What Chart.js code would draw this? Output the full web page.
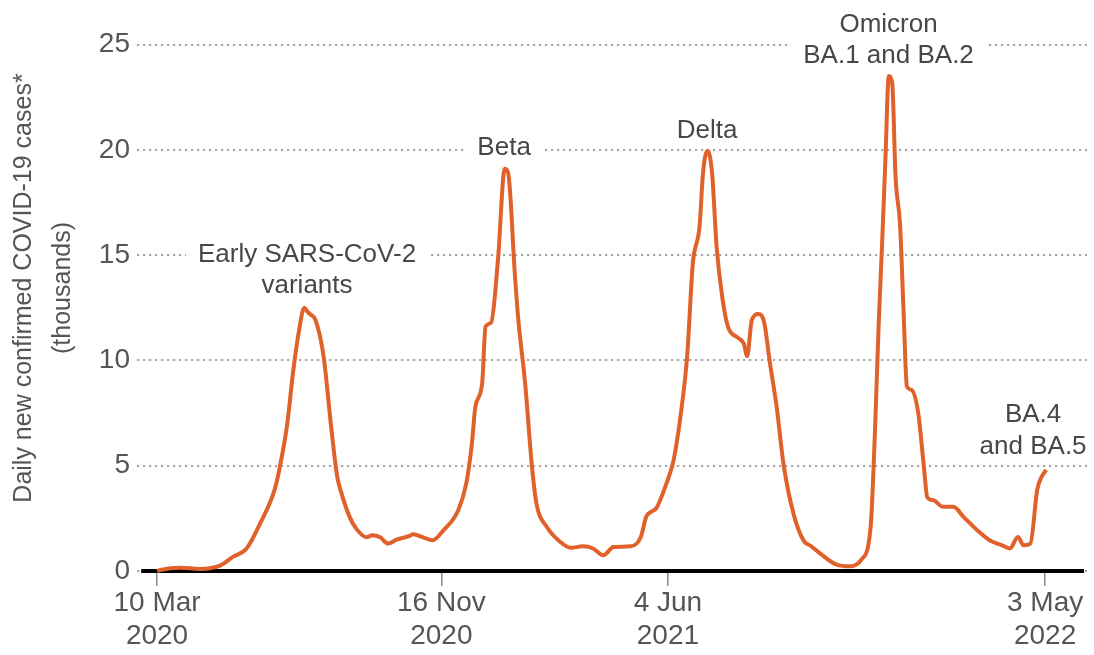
<!DOCTYPE html>
<html><head><meta charset="utf-8">
<script src="https://cdn.jsdelivr.net/npm/chart.js@4.4.1/dist/chart.umd.min.js"></script>
<style>html,body{margin:0;padding:0;background:#fff;}canvas{display:block;}</style>
</head><body>
<canvas id="c" width="1094" height="655"></canvas>
<script>
// days since 10 Mar 2020
const days = [0,3,20,38,56,67,79,91,104,109,115,120,125,130,133,135,140,147,154,159,162,170,176,185,190,197,204,212,223,226,235,243,253,266,273,278,281,287,290,295,301,307,310,316,319,325,331,335,344,356,365,376,385,394,403,418,427,432,436,441,448,452,456,462,468,473,479,482,486,490,494,499,504,512,518,521,525,531,536,541,547,553,562,571,577,585,600,612,622,630,634,637,640,643,646,649,652,656,659,662,666,672,677,680,685,694,703,712,724,735,746,753,760,765,771,777,781,785];
// daily new confirmed cases (thousands)
const cases = [0.0,0.05,0.15,0.1,0.27,0.67,1.07,2.26,3.9,5.1,7.0,9.4,11.3,12.5,12.3,12.2,11.9,10.2,6.7,4.5,3.84,2.57,2.0,1.6,1.7,1.6,1.3,1.5,1.67,1.75,1.6,1.46,1.94,2.9,4.16,6.07,7.8,8.9,11.6,11.8,14.8,19.1,18.9,14.0,11.9,8.9,4.95,3.2,2.1,1.38,1.1,1.17,1.07,0.75,1.14,1.17,1.6,2.6,2.8,3.0,3.9,4.5,5.25,7.3,10.2,14.6,16.4,18.9,19.95,18.9,15.4,13.0,11.6,11.1,10.8,10.2,11.9,12.2,11.8,9.9,7.8,5.1,2.7,1.43,1.2,0.85,0.3,0.22,0.55,2.1,6.9,11.6,15.4,19.5,23.5,23.2,18.7,16.4,12.4,8.76,8.6,7.5,4.95,3.5,3.37,3.05,3.05,2.57,1.94,1.46,1.22,1.07,1.62,1.22,1.3,3.84,4.48,4.8];

const tickDays = [0, 251, 451, 784];
const tickLabels = [['10 Mar','2020'],['16 Nov','2020'],['4 Jun','2021'],['3 May','2022']];
const yTickStep = 5;
const yMax = 25;
const yTitle = ['Daily new confirmed COVID-19 cases*', '(thousands)'];

const annotationTexts = [['Early SARS-CoV-2','variants'],['Beta'],['Delta'],['Omicron','BA.1 and BA.2'],['BA.4','and BA.5']];
const annotationDays = [132.4, 306.4, 485.6, 645.8, 773.4];
const annotationValues = [14.68, 19.75, 20.54, 25.61, 7.07];

const FONT = "'Liberation Sans', Arial, sans-serif";
const ANN_SIZE = 26, ANN_LINE = 31.5, ANN_PAD = 12;

const backgroundPlugin = {
  id: 'bgAndBase',
  beforeDatasetsDraw(chart) {
    const {ctx, scales: {x, y}} = chart;
    ctx.save();
    ctx.font = ANN_SIZE + 'px ' + FONT;
    annotationTexts.forEach((lines, i) => {
      const cx = x.getPixelForValue(annotationDays[i]);
      const by = y.getPixelForValue(annotationValues[i]);
      const w = Math.max(...lines.map(l => ctx.measureText(l).width));
      ctx.fillStyle = '#ffffff';
      ctx.fillRect(cx - w/2 - ANN_PAD, by - ANN_SIZE*0.74, w + 2*ANN_PAD, ANN_SIZE*0.74 + ANN_LINE*(lines.length-1) + ANN_SIZE*0.22);
    });
    const y0 = y.getPixelForValue(0);
    ctx.strokeStyle = '#000';
    ctx.lineWidth = 4;
    ctx.beginPath();
    ctx.moveTo(x.getPixelForValue(-14), y0);
    ctx.lineTo(x.getPixelForValue(818.4), y0);
    ctx.stroke();
    ctx.restore();
  },
  afterDatasetsDraw(chart) {
    const {ctx, scales: {x, y}} = chart;
    ctx.save();
    ctx.font = ANN_SIZE + 'px ' + FONT;
    ctx.fillStyle = '#474747';
    ctx.textAlign = 'center';
    ctx.textBaseline = 'alphabetic';
    annotationTexts.forEach((lines, i) => {
      const cx = x.getPixelForValue(annotationDays[i]);
      const by = y.getPixelForValue(annotationValues[i]);
      lines.forEach((l, j) => ctx.fillText(l, cx, by + j*ANN_LINE));
    });
    ctx.font = '25px ' + FONT;
    ctx.fillStyle = '#555';
    ctx.translate(0, 288);
    ctx.rotate(-Math.PI/2);
    ctx.fillText(yTitle[0], 0, 31);
    ctx.fillText(yTitle[1], 0, 70);
    ctx.restore();
  }
};

new Chart(document.getElementById('c'), {
  type: 'line',
  data: {
    datasets: [{
      data: days.map((d, i) => ({x: d, y: cases[i]})),
      borderColor: '#e0612a',
      borderWidth: 4,
      pointRadius: 0,
      cubicInterpolationMode: 'monotone',
      fill: false,
      clip: false
    }]
  },
  plugins: [backgroundPlugin],
  options: {
    responsive: false,
    animation: false,
    layout: {padding: {top: 44.5, right: 7, left: 0, bottom: 0}},
    plugins: {legend: {display: false}, tooltip: {enabled: false}, title: {display: false}},
    scales: {
      x: {
        type: 'linear',
        min: -17.7,
        max: 821,
        afterFit(s) { s.height = 84; },
        afterBuildTicks(s) { s.ticks = tickDays.map(v => ({value: v})); },
        grid: {drawOnChartArea: false, drawTicks: true, tickLength: 15, color: '#8a8a8a', lineWidth: 1.5},
        border: {display: false},
        ticks: {
          autoSkip: false, maxRotation: 0, minRotation: 0, padding: 0,
          color: '#555',
          font: {family: FONT, size: 28, lineHeight: 1.2},
          callback: (v, i) => tickLabels[i]
        }
      },
      y: {
        min: 0,
        max: yMax,
        afterFit(s) { s.width = 137; },
        grid: {color: '#a5a5a5', lineWidth: 2, drawTicks: false},
        border: {display: false, dash: [2.2, 3.8]},
        ticks: {stepSize: yTickStep, padding: 7, color: '#555', font: {family: FONT, size: 28}}
      }
    }
  }
});
</script>
</body></html>
